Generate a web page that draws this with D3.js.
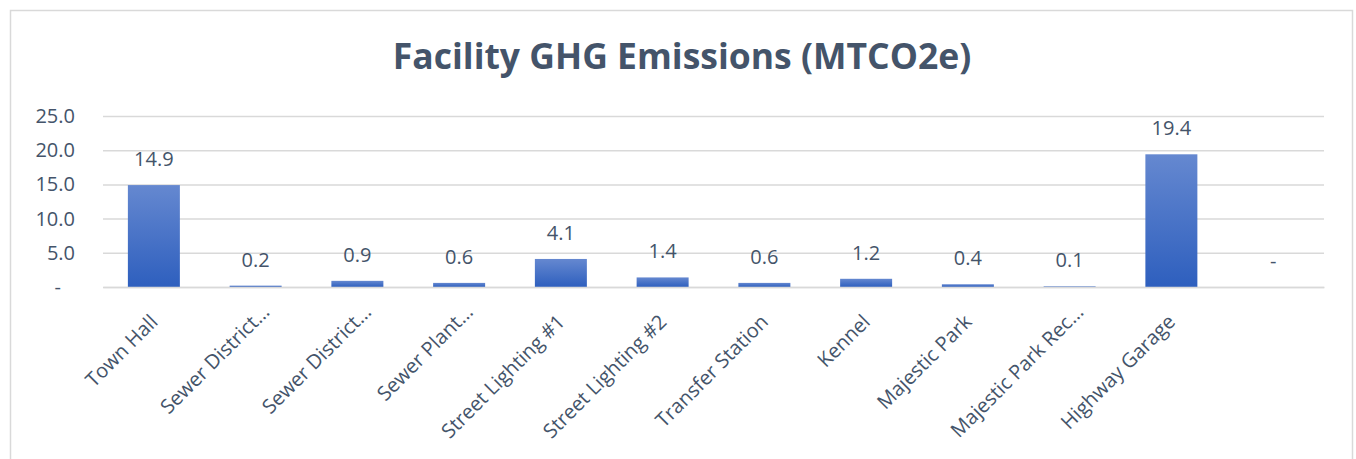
<!DOCTYPE html>
<html>
<head>
<meta charset="utf-8">
<script src="https://cdn.jsdelivr.net/npm/d3@7"></script>
<style>
  html, body { margin: 0; padding: 0; background: #fff; }
  svg { display: block; }
  text { font-family: "Open Sans", "Noto Sans", sans-serif; }
</style>
</head>
<body>
<svg id="chart" width="1356" height="459"></svg>
<script>
const title = "Facility GHG Emissions (MTCO2e)";
const categories = ["Town Hall", "Sewer District…", "Sewer District…", "Sewer Plant…",
  "Street Lighting #1", "Street Lighting #2", "Transfer Station", "Kennel",
  "Majestic Park", "Majestic Park Rec…", "Highway Garage", ""];
const emissions = [14.9, 0.2, 0.9, 0.6, 4.1, 1.4, 0.6, 1.2, 0.4, 0.1, 19.4, 0];
const yTicks = [0, 5, 10, 15, 20, 25];

const W = 1356, H = 459;
const svg = d3.select("#chart");
const textColor = "#44546A";
const gridColor = "#D9D9D9";

svg.append("rect").attr("x", 0).attr("y", 0).attr("width", W).attr("height", H).attr("fill", "#fff");
svg.append("rect").attr("x", 10.5).attr("y", 10.5).attr("width", 1342).attr("height", 470)
  .attr("fill", "#fff").attr("stroke", gridColor).attr("stroke-width", 1.5);

const defs = svg.append("defs");
const grad = defs.append("linearGradient").attr("id", "barGrad")
  .attr("x1", 0).attr("y1", 0).attr("x2", 0).attr("y2", 1);
grad.append("stop").attr("offset", "0%").attr("stop-color", "#6588D0");
grad.append("stop").attr("offset", "100%").attr("stop-color", "#2E5FBE");

const keys = categories.map((c, i) => i);
const x = d3.scaleBand().domain(keys).range([103, 1324]).paddingInner(0.489).paddingOuter(0.2445);
const y = d3.scaleLinear().domain([0, 25]).range([287, 116]);

const fmt = v => v === 0 ? "-" : d3.format(".1f")(v);

// title
svg.append("text").attr("x", 682).attr("y", 69).attr("text-anchor", "middle")
  .attr("font-size", 35.5).attr("font-weight", "bold").attr("fill", textColor).text(title);

// gridlines + y labels
const yAxis = d3.axisLeft(y).tickValues(yTicks).tickSize(-(1324 - 103)).tickFormat(fmt).tickPadding(28);
const gy = svg.append("g").attr("transform", "translate(103,0)").call(yAxis);
gy.select(".domain").remove();
gy.selectAll(".tick line").attr("stroke", gridColor).attr("stroke-width", 1.5);
gy.selectAll(".tick text").attr("fill", textColor).attr("font-size", 20)
  .attr("font-family", "'Open Sans', sans-serif")
  .attr("dx", d => d === 0 ? -14 : 0);

// bars
svg.append("g").selectAll("rect").data(emissions).join("rect")
  .attr("x", (d, i) => x(i))
  .attr("width", x.bandwidth())
  .attr("y", d => y(d))
  .attr("height", d => y(0) - y(d))
  .attr("fill", "url(#barGrad)");

// data labels
svg.append("g").selectAll("text").data(emissions).join("text")
  .attr("x", (d, i) => x(i) + x.bandwidth() / 2)
  .attr("y", d => y(d) - 19)
  .attr("text-anchor", "middle")
  .attr("font-size", 20).attr("fill", textColor)
  .text(fmt);

// x axis
const xAxis = d3.axisBottom(x).tickSize(0).tickFormat(i => categories[i]);
const gx = svg.append("g").attr("transform", `translate(0,${y(0)})`).call(xAxis);
gx.select(".domain").attr("stroke", gridColor).attr("stroke-width", 1.5);
gx.selectAll(".tick text")
  .attr("fill", textColor).attr("font-size", 20)
  .attr("font-family", "'Open Sans', sans-serif")
  .attr("text-anchor", "end")
  .attr("dy", 0)
  .attr("dx", i => categories[i].endsWith("…") ? 14 : 0)
  .attr("transform", "translate(3,34) rotate(-45)");
</script>
</body>
</html>
